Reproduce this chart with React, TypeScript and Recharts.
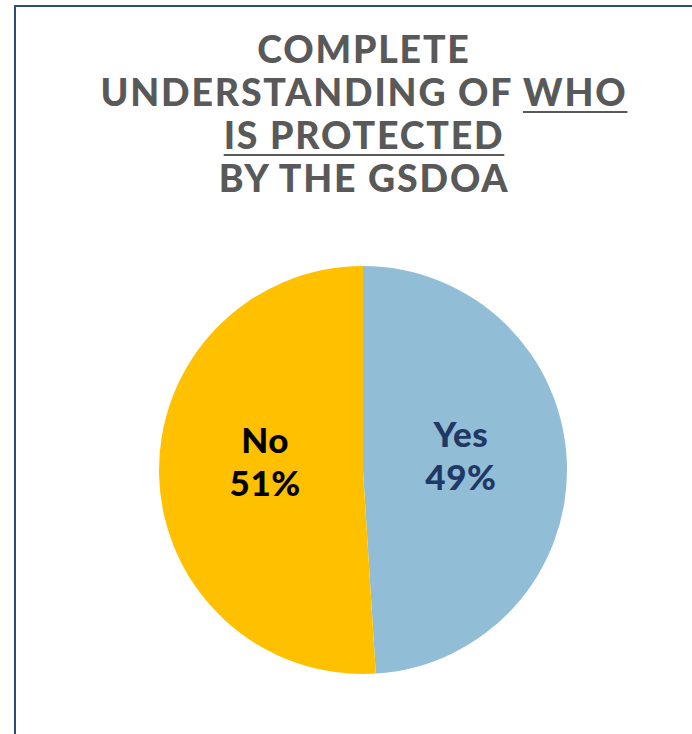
import { PieChart, Pie, Cell } from 'recharts';

const categories = ['Yes', 'No'];
const shares = [49, 51];
const titleLines = ['COMPLETE', 'UNDERSTANDING OF ', 'IS PROTECTED', 'BY THE GSDOA'];

const SLICE_COLORS = ['#92BDD7', '#FFC000'];
const LABEL_COLORS = ['#1F3864', '#000000'];

const data = categories.map((name, i) => ({ name, value: shares[i] }));

const RADIAN = Math.PI / 180;

function renderLabel(props: any) {
  const { cx, cy, midAngle, outerRadius, index, name, value } = props;
  const r = outerRadius * 0.48;
  const x = cx + r * Math.cos(-midAngle * RADIAN);
  const y = cy + r * Math.sin(-midAngle * RADIAN) - 10;
  return (
    <text
      x={x}
      y={y}
      textAnchor="middle"
      fill={LABEL_COLORS[index]}
      fontFamily="Lato, sans-serif"
      fontWeight={900}
      fontSize={35}
      letterSpacing={0.5}
    >
      <tspan x={x} dy={-10}>{name}</tspan>
      <tspan x={x} dy={43}>{`${value}%`}</tspan>
    </text>
  );
}

export default function App() {
  return (
    <div
      style={{
        position: 'absolute',
        left: 0,
        top: 0,
        width: 692,
        height: 734,
        overflow: 'hidden',
        background: '#fff',
      }}
    >
      <style>{`.recharts-pie-sectors { filter: drop-shadow(0px 4px 5px rgba(0,0,0,0.3)); }`}</style>
      <div
        style={{
          position: 'absolute',
          left: 14,
          top: 5,
          width: 760,
          height: 800,
          border: '2px solid #2F4B7C',
        }}
      />
      <div
        style={{
          position: 'absolute',
          left: 0,
          top: 27,
          width: 728,
          textAlign: 'center',
          fontFamily: 'Lato, sans-serif',
          fontWeight: 900,
          fontSize: 37.5,
          lineHeight: '43px',
          letterSpacing: 1.8,
          color: '#595959',
        }}
      >
        <div>{titleLines[0]}</div>
        <div>
          {titleLines[1]}
          <span style={{ textDecoration: 'underline', textDecorationThickness: 2, textUnderlineOffset: 5 }}>WHO</span>
        </div>
        <div>
          <span style={{ textDecoration: 'underline', textDecorationThickness: 2, textUnderlineOffset: 5 }}>
            {titleLines[2]}
          </span>
        </div>
        <div>{titleLines[3]}</div>
      </div>
      <div style={{ position: 'absolute', left: 0, top: 0 }}>
        <PieChart width={692} height={734} margin={{ top: 0, right: 0, bottom: 0, left: 0 }}>
          <Pie
            data={data}
            dataKey="value"
            nameKey="name"
            cx={363}
            cy={470}
            outerRadius={204}
            startAngle={90}
            endAngle={-270}
            stroke="none"
            labelLine={false}
            label={renderLabel}
            isAnimationActive={false}
          >
            {data.map((d, i) => (
              <Cell key={d.name} fill={SLICE_COLORS[i]} />
            ))}
          </Pie>
        </PieChart>
      </div>
    </div>
  );
}
